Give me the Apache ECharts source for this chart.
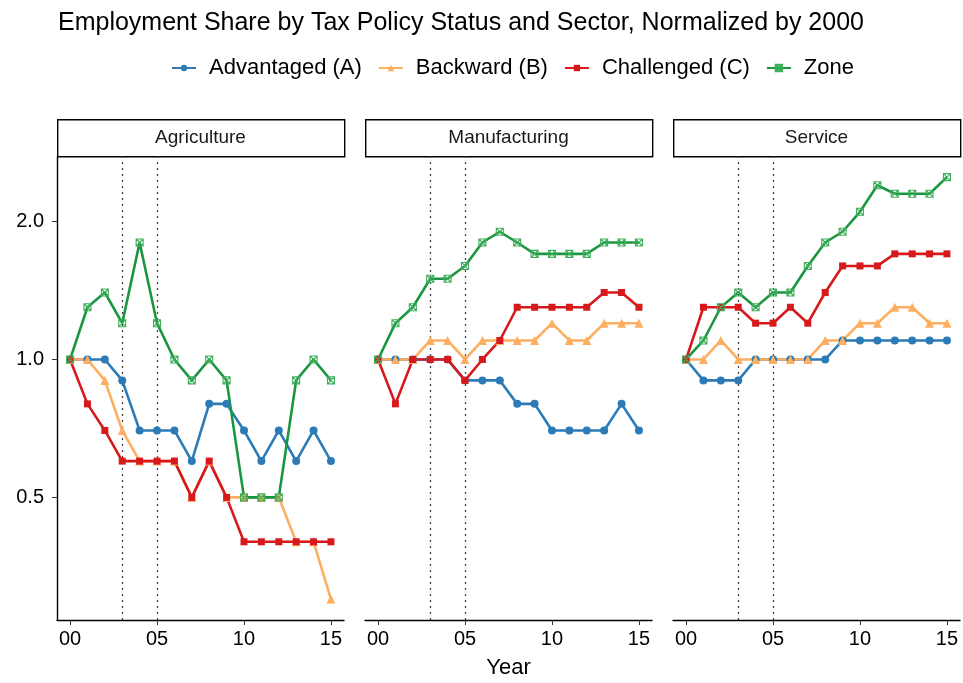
<!DOCTYPE html>
<html>
<head>
<meta charset="utf-8" />
<title>Employment Share</title>
<script src="https://cdn.jsdelivr.net/npm/echarts@6/dist/echarts.min.js"></script>
<style>
  html, body { margin: 0; padding: 0; background: #fff; }
  #main { width: 963px; height: 683px; }
</style>
</head>
<body>
<div id="main"></div>
<script type="text/javascript">
/* data */
var years = [0, 1, 2, 3, 4, 5, 6, 7, 8, 9, 10, 11, 12, 13, 14, 15];
var sectors = ['Agriculture', 'Manufacturing', 'Service'];
var groups = ['Advantaged (A)', 'Backward (B)', 'Challenged (C)', 'Zone'];
var xTicks = [0, 5, 10, 15];
var policyYears = [3, 5];

var agriA = [1.0, 1.0, 1.0, 0.9, 0.7, 0.7, 0.7, 0.6, 0.8, 0.8, 0.7, 0.6, 0.7, 0.6, 0.7, 0.6];
var agriB = [1.0, 1.0, 0.9, 0.7, 0.6, 0.6, 0.6, 0.5, 0.6, 0.5, 0.5, 0.5, 0.5, 0.4, 0.4, 0.3];
var agriC = [1.0, 0.8, 0.7, 0.6, 0.6, 0.6, 0.6, 0.5, 0.6, 0.5, 0.4, 0.4, 0.4, 0.4, 0.4, 0.4];
var agriZ = [1.0, 1.3, 1.4, 1.2, 1.8, 1.2, 1.0, 0.9, 1.0, 0.9, 0.5, 0.5, 0.5, 0.9, 1.0, 0.9];

var manA = [1.0, 1.0, 1.0, 1.0, 1.0, 0.9, 0.9, 0.9, 0.8, 0.8, 0.7, 0.7, 0.7, 0.7, 0.8, 0.7];
var manB = [1.0, 1.0, 1.0, 1.1, 1.1, 1.0, 1.1, 1.1, 1.1, 1.1, 1.2, 1.1, 1.1, 1.2, 1.2, 1.2];
var manC = [1.0, 0.8, 1.0, 1.0, 1.0, 0.9, 1.0, 1.1, 1.3, 1.3, 1.3, 1.3, 1.3, 1.4, 1.4, 1.3];
var manZ = [1.0, 1.2, 1.3, 1.5, 1.5, 1.6, 1.8, 1.9, 1.8, 1.7, 1.7, 1.7, 1.7, 1.8, 1.8, 1.8];

var serA = [1.0, 0.9, 0.9, 0.9, 1.0, 1.0, 1.0, 1.0, 1.0, 1.1, 1.1, 1.1, 1.1, 1.1, 1.1, 1.1];
var serB = [1.0, 1.0, 1.1, 1.0, 1.0, 1.0, 1.0, 1.0, 1.1, 1.1, 1.2, 1.2, 1.3, 1.3, 1.2, 1.2];
var serC = [1.0, 1.3, 1.3, 1.3, 1.2, 1.2, 1.3, 1.2, 1.4, 1.6, 1.6, 1.6, 1.7, 1.7, 1.7, 1.7];
var serZ = [1.0, 1.1, 1.3, 1.4, 1.3, 1.4, 1.4, 1.6, 1.8, 1.9, 2.1, 2.4, 2.3, 2.3, 2.3, 2.5];

var values = [
  [agriA, agriB, agriC, agriZ],
  [manA, manB, manC, manZ],
  [serA, serB, serC, serZ]
];

/* look */
var FONT = 'Liberation Sans';
var colors = ['#2C7BB6', '#FDAE61', '#D7191C', '#1A9641'];
var symbols = ['circle', 'triangle', 'rect',
  'path://M0,0L10,0L10,10L0,10Z M0,0L10,10 M10,0L0,10'];
var symbolSizes = [8, 9, 7, 7];

var panelLeft = 57, panelW = 287, panelStep = 308;
var plotTop = 156, plotH = 464;

var chart = echarts.init(document.getElementById('main'));

var grids = [], xAxes = [], yAxes = [], series = [], graphics = [];

sectors.forEach(function (name, p) {
  var left = panelLeft + p * panelStep;
  grids.push({
    left: left, top: plotTop, width: panelW, height: plotH,
    containLabel: false, outerBoundsMode: 'none'
  });

  xAxes.push({
    type: 'value', gridIndex: p, min: -0.75, max: 15.75,
    splitLine: { show: false },
    axisLine: { show: true, onZero: false, lineStyle: { color: '#000', width: 1.4 } },
    axisTick: { show: true, length: 5, customValues: xTicks, lineStyle: { color: '#333', width: 1 } },
    axisLabel: {
      customValues: xTicks, margin: 9, color: '#000', fontFamily: FONT, fontSize: 20,
      formatter: function (v) { return (v < 10 ? '0' : '') + v; }
    }
  });

  yAxes.push({
    type: 'log', logBase: 2, gridIndex: p, min: 0.27, max: 2.78,
    show: p === 0,
    splitLine: { show: false },
    axisLine: { show: true, onZero: false, lineStyle: { color: '#000', width: 1.4 } },
    axisTick: { show: true, length: 5, lineStyle: { color: '#333', width: 1 } },
    axisLabel: {
      margin: 13, color: '#000', fontFamily: FONT, fontSize: 20,
      showMinLabel: false, showMaxLabel: false,
      formatter: function (v) { return Number(v).toFixed(1); }
    }
  });

  /* facet strip */
  graphics.push({
    type: 'rect', left: left, top: 119,
    shape: { width: panelW, height: 37 },
    style: { fill: '#fff', stroke: '#000', lineWidth: 1.4 }
  });
  graphics.push({
    type: 'text', x: left + panelW / 2, y: 138,
    style: {
      text: name, fill: '#1a1a1a', font: '19px "' + FONT + '"',
      textAlign: 'center', textVerticalAlign: 'middle'
    }
  });

  groups.forEach(function (g, k) {
    var s = {
      name: g, type: 'line', xAxisIndex: p, yAxisIndex: p,
      data: years.map(function (yr, i) { return [yr, values[p][k][i]]; }),
      symbol: symbols[k], symbolSize: symbolSizes[k], showSymbol: true,
      lineStyle: { color: colors[k], width: 2.6 },
      itemStyle: k === 3
        ? { color: 'rgba(255,255,255,0)', borderColor: '#3fae5a', borderWidth: 1.1 }
        : { color: colors[k] },
      emphasis: { disabled: true },
      z: 3
    };
    if (k === 0) {
      s.markLine = {
        silent: true, symbol: 'none', label: { show: false },
        lineStyle: { type: [2, 4], color: '#444', width: 1.3 },
        data: policyYears.map(function (yr) { return { xAxis: yr }; }),
        z: 1
      };
    }
    series.push(s);
  });
});

/* shared x-axis title */
graphics.push({
  type: 'text', x: panelLeft + (2 * panelStep + panelW) / 2, y: 668,
  style: {
    text: 'Year', fill: '#000', font: '22px "' + FONT + '"',
    textAlign: 'center', textVerticalAlign: 'middle'
  }
});

var option = {
  animation: false,
  backgroundColor: '#fff',
  title: {
    text: 'Employment Share by Tax Policy Status and Sector, Normalized by 2000',
    left: 53, top: 6,
    textStyle: { fontFamily: FONT, fontSize: 25, fontWeight: 'normal', color: '#000' }
  },
  legend: {
    data: groups, left: 166, top: 52,
    itemWidth: 24, itemHeight: 8, itemGap: 16,
    textStyle: { fontFamily: FONT, fontSize: 22, color: '#000', padding: [0, 0, 0, 8] }
  },
  grid: grids,
  xAxis: xAxes,
  yAxis: yAxes,
  series: series,
  graphic: graphics
};

chart.setOption(option);
window.onresize = chart.resize;
</script>
</body>
</html>
